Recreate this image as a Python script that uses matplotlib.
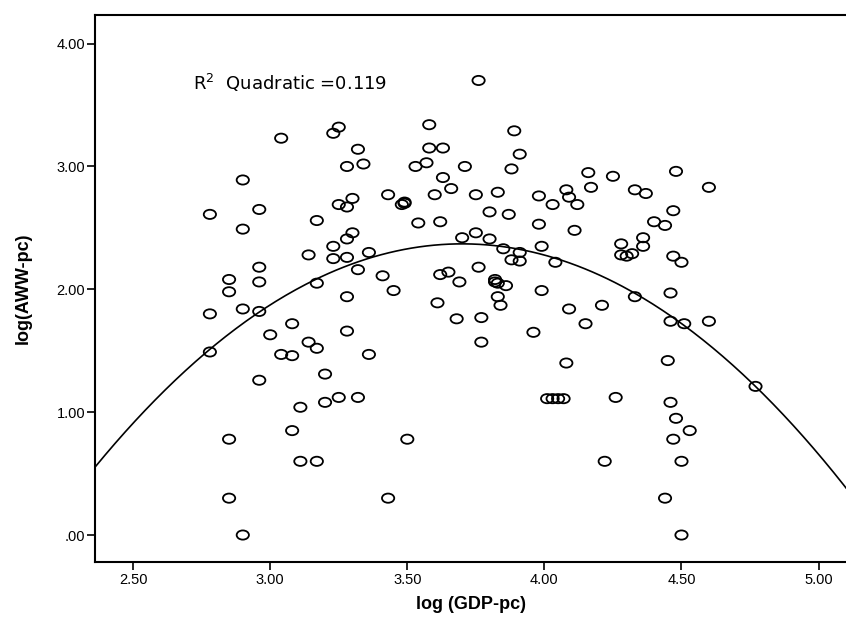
import numpy as np
import matplotlib
matplotlib.use("Agg")
import matplotlib.path as mpath
from matplotlib import pyplot as plt

# log GDP per capita (x) and log AWW per capita (y)
gdp_pc = [
    3.04, 3.23, 3.25, 2.90, 2.78, 2.96, 2.90, 3.17, 3.25, 3.23,
    3.14, 3.23, 2.96, 2.85, 2.96, 2.85, 3.17, 2.78, 2.90, 2.96,
    3.08, 3.00, 3.14, 3.17, 2.78, 3.04, 3.08, 3.20, 2.96, 3.25,
    3.20, 3.11, 3.08, 2.85, 3.11, 3.17, 2.85, 2.90,
    3.76, 3.58, 3.89, 3.32, 3.58, 3.63, 3.91, 3.28, 3.34, 3.53,
    3.57, 3.71, 3.88, 3.63, 3.66, 4.08, 3.43, 3.60, 3.75, 3.83,
    3.98, 4.09, 4.03, 4.12, 3.30, 3.28, 3.49, 3.48, 3.49, 3.80,
    3.87, 3.54, 3.62, 3.98, 4.11, 3.30, 3.28, 3.75, 3.70, 3.80,
    3.99, 3.85, 3.91, 3.88, 3.91, 4.04, 3.36, 3.28, 3.32, 3.41,
    3.62, 3.65, 3.76, 3.69, 3.82, 3.83, 3.82, 3.86, 3.99, 3.45,
    3.28, 3.61, 3.83, 3.84, 4.09, 3.68, 3.77, 3.28, 3.96, 3.77,
    3.36, 4.08, 3.32, 4.01, 4.03, 4.05, 4.07, 3.50, 3.43,
    4.16, 4.25, 4.48, 4.17, 4.33, 4.37, 4.60, 4.47, 4.40, 4.44,
    4.36, 4.36, 4.28, 4.28, 4.30, 4.32, 4.47, 4.50, 4.33, 4.46,
    4.21, 4.15, 4.46, 4.51, 4.60, 4.45, 4.77, 4.26, 4.46, 4.48,
    4.53, 4.47, 4.22, 4.50, 4.44, 4.50,
]
aww_pc = [
    3.23, 3.27, 3.32, 2.89, 2.61, 2.65, 2.49, 2.56, 2.69, 2.35,
    2.28, 2.25, 2.18, 2.08, 2.06, 1.98, 2.05, 1.80, 1.84, 1.82,
    1.72, 1.63, 1.57, 1.52, 1.49, 1.47, 1.46, 1.31, 1.26, 1.12,
    1.08, 1.04, 0.85, 0.78, 0.60, 0.60, 0.30, 0.00,
    3.70, 3.34, 3.29, 3.14, 3.15, 3.15, 3.10, 3.00, 3.02, 3.00,
    3.03, 3.00, 2.98, 2.91, 2.82, 2.81, 2.77, 2.77, 2.77, 2.79,
    2.76, 2.75, 2.69, 2.69, 2.74, 2.67, 2.70, 2.69, 2.71, 2.63,
    2.61, 2.54, 2.55, 2.53, 2.48, 2.46, 2.41, 2.46, 2.42, 2.41,
    2.35, 2.33, 2.30, 2.24, 2.23, 2.22, 2.30, 2.26, 2.16, 2.11,
    2.12, 2.14, 2.18, 2.06, 2.08, 2.05, 2.06, 2.03, 1.99, 1.99,
    1.94, 1.89, 1.94, 1.87, 1.84, 1.76, 1.77, 1.66, 1.65, 1.57,
    1.47, 1.40, 1.12, 1.11, 1.11, 1.11, 1.11, 0.78, 0.30,
    2.95, 2.92, 2.96, 2.83, 2.81, 2.78, 2.83, 2.64, 2.55, 2.52,
    2.42, 2.35, 2.37, 2.28, 2.27, 2.29, 2.27, 2.22, 1.94, 1.97,
    1.87, 1.72, 1.74, 1.72, 1.74, 1.42, 1.21, 1.12, 1.08, 0.95,
    0.85, 0.78, 0.60, 0.60, 0.30, 0.00,
]

# quadratic fit line as drawn in the chart: y = a*x^2 + b*x + c
fit_coef = [-1.0136, 7.5007, -11.5064]

x_ticks = [2.5, 3.0, 3.5, 4.0, 4.5, 5.0]
x_tick_labels = ["2.50", "3.00", "3.50", "4.00", "4.50", "5.00"]
y_ticks = [0, 1, 2, 3, 4]
y_tick_labels = [".00", "1.00", "2.00", "3.00", "4.00"]
r2_text = "R$^2$  Quadratic =0.119"

plt.rcParams["font.family"] = ["Liberation Sans", "DejaVu Sans"]

fig = plt.figure(figsize=(8.46, 6.19), dpi=100)
ax = fig.add_axes([0.1123, 0.0916, 0.8877, 0.8842])

# SPSS draws its circles a bit flattened
circle = mpath.Path.unit_circle()
oval = mpath.Path(circle.vertices * np.array([1.0, 0.75]), circle.codes)

ax.scatter(gdp_pc, aww_pc, marker=oval, s=78, facecolors="none",
           edgecolors="black", linewidths=1.3, zorder=3)

# fit line across the whole x range
xlim = (2.361, 5.10)
xs = np.linspace(xlim[0], xlim[1], 300)
ax.plot(xs, np.polyval(fit_coef, xs), color="black", linewidth=1.2, zorder=2)

ax.text(2.718, 3.68, r2_text, fontsize=13, va="center", ha="left",
        family=["DejaVu Sans"])

ax.set_xlim(*xlim)
ax.set_ylim(-0.222, 4.233)
ax.set_xticks(x_ticks)
ax.set_xticklabels(x_tick_labels)
ax.set_yticks(y_ticks)
ax.set_yticklabels(y_tick_labels)
ax.tick_params(axis="x", direction="out", length=6, width=1.2, labelsize=10.5, pad=2)
ax.tick_params(axis="y", direction="out", length=6, width=1.2, labelsize=10.5, pad=1)

ax.set_xlabel("log (GDP-pc)", fontsize=13, fontweight="bold", labelpad=6)
ax.set_ylabel("log(AWW-pc)", fontsize=13, fontweight="bold", labelpad=18)

for side in ["top", "left", "bottom"]:
    ax.spines[side].set_linewidth(1.5)
ax.spines["right"].set_visible(False)

fig.savefig("out.png", dpi=100)
